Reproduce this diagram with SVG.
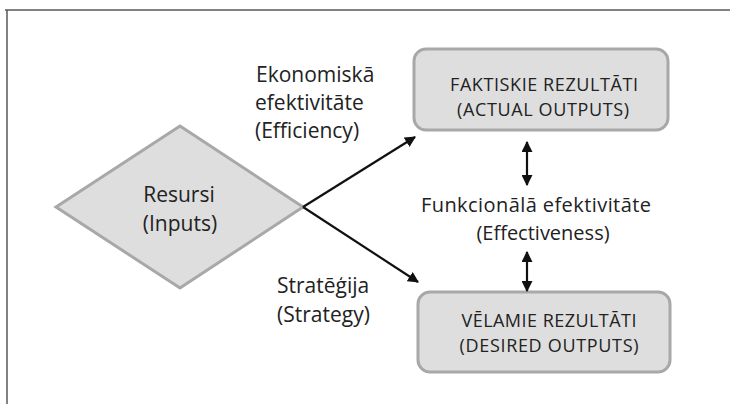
<svg xmlns="http://www.w3.org/2000/svg" width="730" height="404" viewBox="0 0 730 404">
  <style>
    .frame { fill: none; stroke: #5a5a5a; stroke-width: 1.5; }
    .shape { fill: #dedede; stroke: #a8a8a8; stroke-width: 3; }
    .conn { fill: none; stroke: #111; stroke-width: 2.2; }
    text { font-family: "Open Sans", "Liberation Sans", sans-serif; font-size: 21px; fill: #222; }
    .box { font-size: 18px; }
    .mid { font-size: 20px; }
    .c { text-anchor: middle; }
  </style>
  <defs>
    <marker id="head" viewBox="0 0 10 10" refX="9" refY="5" markerWidth="5" markerHeight="5" orient="auto-start-reverse" markerUnits="strokeWidth">
      <path d="M0,0 L10,5 L0,10 z" fill="#111"/>
    </marker>
  </defs>

  <!-- page frame: top and left rules -->
  <path class="frame" d="M5,10 H730 M7,10 V404"/>

  <g id="resursi">
    <polygon class="shape" points="180,126 303,207 180,288 56,207"/>
    <text class="c" x="179" y="202">Resursi</text>
    <text class="c" x="180" y="231">(Inputs)</text>
  </g>

  <g id="faktiskie">
    <rect class="shape" x="414" y="49" width="254" height="81" rx="12"/>
    <text class="c box" x="544" y="91" textLength="188">FAKTISKIE REZULTĀTI</text>
    <text class="c box" x="543" y="116" textLength="172">(ACTUAL OUTPUTS)</text>
  </g>

  <g id="velamie">
    <rect class="shape" x="418" y="292" width="252" height="80" rx="12"/>
    <text class="c box" x="549" y="327" textLength="175">VĒLAMIE REZULTĀTI</text>
    <text class="c box" x="549" y="352" textLength="179">(DESIRED OUTPUTS)</text>
  </g>

  <g id="labels">
    <text x="256" y="82">Ekonomiskā</text>
    <text x="255" y="110">efektivitāte</text>
    <text x="255" y="138">(Efficiency)</text>
    <text x="277" y="293">Stratēģija</text>
    <text x="277" y="322">(Strategy)</text>
    <text class="c mid" x="536" y="212" textLength="230">Funkcionālā efektivitāte</text>
    <text class="c mid" x="543" y="240">(Effectiveness)</text>
  </g>

  <g id="connectors">
    <line class="conn" x1="303" y1="207" x2="415" y2="137" marker-end="url(#head)"/>
    <line class="conn" x1="303" y1="207" x2="418" y2="282" marker-end="url(#head)"/>
    <line class="conn" x1="527" y1="142" x2="527" y2="185" marker-start="url(#head)" marker-end="url(#head)"/>
    <line class="conn" x1="527" y1="252" x2="527" y2="291" marker-start="url(#head)" marker-end="url(#head)"/>
  </g>
</svg>
